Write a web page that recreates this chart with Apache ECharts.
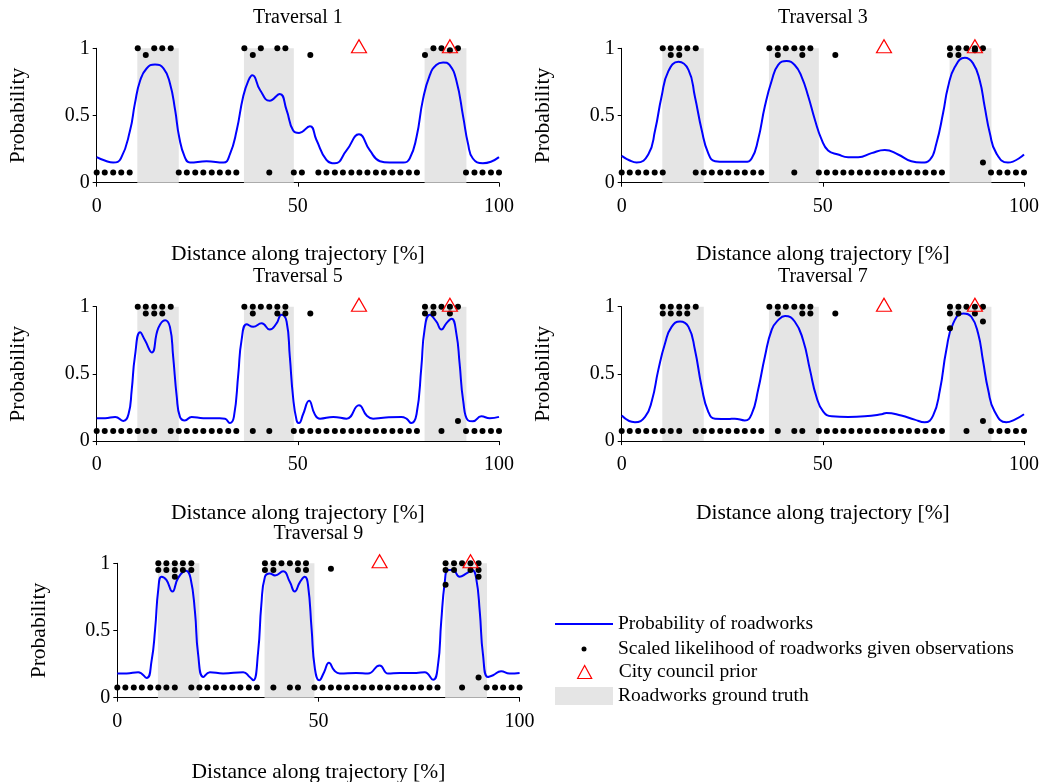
<!DOCTYPE html>
<html>
<head>
<meta charset="utf-8">
<script src="https://cdn.jsdelivr.net/npm/echarts@6/dist/echarts.min.js"></script>
<style>
  html, body { margin: 0; padding: 0; background: #fff; }
  #chart { width: 1042px; height: 782px; }
</style>
</head>
<body>
<div id="chart"></div>
<script>
// Panel titles
const titles = ["Traversal 1", "Traversal 3", "Traversal 5", "Traversal 7", "Traversal 9"];

// Roadworks ground truth spans [% along trajectory]
const truthSpans = [[10.1, 20.4], [36.6, 49.0], [81.5, 91.9]];

// City council prior positions
const priorAt = [65.2, 87.8];

// Observation stations along the trajectory [%]
const stations = [0, 2.0, 4.1, 6.1, 8.2, 10.2, 12.2, 14.3, 16.3, 18.4,
  20.4, 22.4, 24.5, 26.5, 28.6, 30.6, 32.7, 34.7, 36.7, 38.8,
  40.8, 42.9, 44.9, 46.9, 49.0, 51.0, 53.1, 55.1, 57.1, 59.2,
  61.2, 63.3, 65.3, 67.3, 69.4, 71.4, 73.5, 75.5, 77.6, 79.6,
  81.6, 83.7, 85.7, 87.8, 89.8, 91.8, 93.9, 95.9, 98.0, 100];

// Scaled likelihood values seen at each station
const dots1 = [
  [0.075], [0.075], [0.075], [0.075], [0.075],
  [1], [0.95], [1], [1], [1],
  [0.075], [0.075], [0.075], [0.075], [0.075], [0.075], [0.075], [0.075],
  [1], [0.95], [1], [0.075], [1], [1], [0.075], [0.075],
  [0.95],
  [0.075], [0.075], [0.075], [0.075], [0.075], [0.075], [0.075], [0.075], [0.075], [0.075], [0.075], [0.075], [0.075],
  [0.95], [1], [1], [0.985], [1],
  [0.075], [0.075], [0.075], [0.075], [0.075],
];
const dots3 = [
  [0.075], [0.075], [0.075], [0.075], [0.075],
  [0.075, 1], [1, 0.95], [1, 0.95], [1], [0.075, 1],
  [0.075], [0.075], [0.075], [0.075], [0.075], [0.075], [0.075], [0.075],
  [1], [1, 0.95], [1], [0.075, 1], [1, 0.95], [1], [0.075], [0.075],
  [0.075, 0.95],
  [0.075], [0.075], [0.075], [0.075], [0.075], [0.075], [0.075], [0.075], [0.075], [0.075], [0.075], [0.075], [0.075],
  [1, 0.95], [1, 0.95], [1], [1, 0.985], [1, 0.15],
  [0.075], [0.075], [0.075], [0.075], [0.075],
];
const dots5 = [
  [0.075], [0.075], [0.075], [0.075], [0.075],
  [0.075, 1], [0.075, 1, 0.95], [0.075, 1, 0.95], [1, 0.95], [0.075, 1],
  [0.075], [0.075], [0.075], [0.075], [0.075], [0.075], [0.075], [0.075],
  [1], [0.075, 1, 0.95], [1], [0.075, 1], [1, 0.95], [1, 0.95], [0.075], [0.075],
  [0.075, 0.95],
  [0.075], [0.075], [0.075], [0.075], [0.075], [0.075], [0.075], [0.075], [0.075], [0.075], [0.075], [0.075], [0.075],
  [1, 0.95], [1, 0.95], [0.075, 1], [1, 0.95], [1, 0.15],
  [0.075], [0.075], [0.075], [0.075], [0.075],
];
const dots7 = [
  [0.075], [0.075], [0.075], [0.075], [0.075],
  [0.075, 1, 0.95], [0.075, 1, 0.95], [0.075, 1, 0.95], [1, 0.95], [0.075, 1],
  [0.075], [0.075], [0.075], [0.075], [0.075], [0.075], [0.075], [0.075],
  [1], [0.075, 1, 0.95], [1], [0.075, 1], [0.075, 1, 0.95], [1, 0.95], [0.075], [0.075],
  [0.075, 0.95],
  [0.075], [0.075], [0.075], [0.075], [0.075], [0.075], [0.075], [0.075], [0.075], [0.075], [0.075], [0.075], [0.075],
  [1, 0.95, 0.84], [1, 0.95], [0.075, 1], [1, 0.95], [1, 0.89, 0.15],
  [0.075], [0.075], [0.075], [0.075], [0.075],
];
const dots9 = [
  [0.075], [0.075], [0.075], [0.075], [0.075],
  [0.075, 1, 0.95], [0.075, 1, 0.95], [0.075, 1, 0.95, 0.9], [1, 0.95], [0.075, 1, 0.95],
  [0.075], [0.075], [0.075], [0.075], [0.075], [0.075], [0.075], [0.075],
  [1, 0.95], [0.075, 1, 0.95], [1], [0.075, 1], [0.075, 1, 0.95], [1, 0.95], [0.075], [0.075],
  [0.075, 0.96],
  [0.075], [0.075], [0.075], [0.075], [0.075], [0.075], [0.075], [0.075], [0.075], [0.075], [0.075], [0.075], [0.075],
  [1, 0.95, 0.84], [1, 0.95], [0.075, 1], [1, 0.95], [1, 0.95, 0.9, 0.15],
  [0.075], [0.075], [0.075], [0.075], [0.075],
];

// Probability of roadworks, [% along trajectory, probability]
const curve1 = [[0, 0.19], [2, 0.165], [4.1, 0.15], [6, 0.18], [8.3, 0.39], [9.5, 0.59], [10.8, 0.76], [12.4, 0.85],
  [14.5, 0.88], [16.6, 0.85], [18.2, 0.74], [19.5, 0.54], [20.5, 0.34], [21.9, 0.19], [23.2, 0.15], [27.3, 0.16],
  [31.5, 0.15], [33.1, 0.21], [34.8, 0.39], [36.4, 0.64], [37.7, 0.76], [38.7, 0.8], [40.6, 0.69], [43, 0.61],
  [45.5, 0.66], [47.2, 0.54], [48.8, 0.39], [50.3, 0.37], [53, 0.42], [54.6, 0.32], [57.1, 0.17], [59.2, 0.144],
  [62.1, 0.24], [65.2, 0.36], [67.9, 0.24], [70.4, 0.16], [72.8, 0.15], [76.2, 0.15], [77.8, 0.18], [79.5, 0.34],
  [81.1, 0.62], [82.8, 0.8], [84.4, 0.876], [86.1, 0.895], [87.7, 0.876], [89.4, 0.76], [91.1, 0.49], [92.3, 0.29],
  [93.5, 0.18], [96, 0.144], [100, 0.19]];
const curve3 = [[0, 0.2], [2, 0.165], [3.7, 0.15], [6.6, 0.21], [8.3, 0.39], [9.9, 0.64], [11.6, 0.83], [14.1, 0.9],
  [16.6, 0.84], [18.2, 0.64], [19.9, 0.39], [21.5, 0.22], [23.2, 0.16], [25.7, 0.155], [30.6, 0.155], [32.3, 0.18],
  [33.9, 0.32], [35.6, 0.57], [37.3, 0.76], [38.9, 0.876], [41, 0.906], [43, 0.876], [44.7, 0.79], [46.4, 0.64],
  [48, 0.47], [49.7, 0.32], [51.3, 0.24], [53.8, 0.21], [56.3, 0.19], [58.8, 0.19], [62.1, 0.22], [65.4, 0.243],
  [68.7, 0.21], [72, 0.16], [74.5, 0.15], [76.6, 0.17], [78.2, 0.29], [79.9, 0.52], [81.1, 0.71], [82.8, 0.86],
  [85.3, 0.93], [87.3, 0.89], [89, 0.76], [90.2, 0.57], [91.5, 0.37], [93.1, 0.22], [96, 0.15], [100, 0.21]];
const curve5 = [[0, 0.17], [2.1, 0.17], [4.6, 0.18], [6.6, 0.15], [7.9, 0.2], [8.7, 0.38], [9.5, 0.63], [10.8, 0.81],
  [12, 0.75], [13.7, 0.66], [15.3, 0.84], [17, 0.9], [18.2, 0.85], [19, 0.63], [19.9, 0.33], [20.7, 0.18],
  [21.9, 0.154], [23.6, 0.18], [26.5, 0.17], [30.6, 0.17], [31.9, 0.167], [33.1, 0.134], [34.1, 0.18], [35.2, 0.5],
  [36, 0.75], [37.3, 0.87], [38.9, 0.85], [41, 0.876], [43, 0.83], [44.7, 0.876], [45.9, 0.94], [47.2, 0.89],
  [48, 0.63], [48.8, 0.33], [49.7, 0.154], [50.3, 0.134], [51.3, 0.2], [52.8, 0.3], [54.2, 0.2], [55.5, 0.167],
  [58.8, 0.18], [62.1, 0.167], [65.2, 0.266], [67.1, 0.19], [68.7, 0.167], [71.2, 0.174], [75.7, 0.18], [77, 0.167],
  [78.2, 0.134], [79.5, 0.2], [80.7, 0.55], [81.5, 0.83], [82.8, 0.94], [84.4, 0.89], [85.7, 0.83], [86.9, 0.876],
  [88.2, 0.91], [89.4, 0.8], [90.2, 0.58], [91.1, 0.3], [92.3, 0.154], [93.5, 0.147], [95.6, 0.184], [97.7, 0.17],
  [100, 0.18]];
const curve7 = [[0, 0.19], [3.3, 0.14], [5.8, 0.18], [7.5, 0.3], [9.1, 0.53], [10.8, 0.73], [12.4, 0.85], [14.5, 0.89],
  [16.6, 0.85], [18.2, 0.68], [19.9, 0.4], [21.5, 0.22], [23.2, 0.167], [26.5, 0.164], [28.1, 0.167], [30.6, 0.154],
  [32.3, 0.2], [33.9, 0.38], [35.6, 0.63], [37.3, 0.83], [38.9, 0.9], [40.6, 0.93], [43, 0.89], [45.1, 0.75],
  [46.8, 0.53], [48.4, 0.33], [50.1, 0.22], [52.2, 0.184], [56.3, 0.18], [60.4, 0.184], [64.6, 0.2], [65.8, 0.21],
  [69.5, 0.19], [72.8, 0.16], [75.3, 0.14], [77.4, 0.19], [79.1, 0.38], [80.7, 0.68], [82.4, 0.876], [84.9, 0.95],
  [86.9, 0.925], [88.6, 0.8], [89.8, 0.6], [91.1, 0.38], [92.7, 0.22], [95.6, 0.14], [97.7, 0.16], [100, 0.2]];
const curve9 = [[0, 0.18], [2.3, 0.18], [5.2, 0.19], [7.3, 0.147], [8.5, 0.27], [9.4, 0.51], [10.2, 0.81], [11, 0.9],
  [12.2, 0.876], [13.7, 0.79], [15.1, 0.89], [17.1, 0.945], [18.2, 0.89], [19.3, 0.64], [20.1, 0.32], [21.4, 0.154],
  [23, 0.19], [26.3, 0.18], [31.3, 0.19], [32.9, 0.154], [33.8, 0.13], [35, 0.34], [35.8, 0.69], [36.7, 0.9],
  [37.9, 0.925], [39.2, 0.91], [41.2, 0.94], [42.9, 0.86], [44.1, 0.79], [45.4, 0.86], [46.6, 0.9], [47.4, 0.84],
  [48.3, 0.51], [49.1, 0.22], [50.2, 0.13], [51.4, 0.19], [52.6, 0.26], [54, 0.2], [55.3, 0.18], [59.4, 0.184],
  [62.3, 0.18], [65.2, 0.24], [67.3, 0.18], [70.2, 0.184], [74.3, 0.184], [76.4, 0.19], [78.5, 0.134], [79.7, 0.24],
  [80.5, 0.56], [81.4, 0.86], [82.2, 0.95], [83.4, 0.95], [85.1, 0.9], [86.8, 0.925], [88.2, 0.95], [89.2, 0.89],
  [90.1, 0.64], [90.9, 0.32], [92.1, 0.154], [93.4, 0.167], [95.4, 0.196], [97.5, 0.18], [100, 0.184]];

const curves = [curve1, curve3, curve5, curve7, curve9];
const dotSets = [dots1, dots3, dots5, dots7, dots9];

// Layout of the five panels
const FONT = '"Liberation Serif", "DejaVu Serif", serif';
const GRAY = "#e5e5e5";
const plotW = 402.3;
const plotH = 134.4;
const panels = [
  { left: 96.7, top: 48.3, titleTop: 8, nameGap: 61 },
  { left: 621.7, top: 48.3, titleTop: 8, nameGap: 61 },
  { left: 96.7, top: 306.7, titleTop: 267, nameGap: 61 },
  { left: 621.7, top: 306.7, titleTop: 267, nameGap: 61 },
  { left: 117.3, top: 563.3, titleTop: 524, nameGap: 64 },
];

const textStyle = { fontFamily: FONT, fontSize: 20, color: "#000" };
const nameStyle = { fontFamily: FONT, fontSize: 21.5, color: "#000" };
const legendText = { fontFamily: FONT, fontSize: 19.5, color: "#000" };

const series = [];
panels.forEach((p, k) => {
  series.push({
    name: "Roadworks ground truth",
    type: "line",
    xAxisIndex: k,
    yAxisIndex: k,
    data: [],
    symbol: "none",
    silent: true,
    lineStyle: { color: GRAY },
    itemStyle: { color: GRAY },
    markArea: {
      silent: true,
      itemStyle: { color: GRAY },
      data: truthSpans.map((s) => [{ xAxis: s[0], yAxis: 0 }, { xAxis: s[1], yAxis: 1 }]),
    },
  });
  series.push({
    name: "Probability of roadworks",
    type: "line",
    xAxisIndex: k,
    yAxisIndex: k,
    data: curves[k],
    smooth: 0.5,
    symbol: "none",
    silent: true,
    lineStyle: { color: "#0000ff", width: 2 },
    itemStyle: { color: "#0000ff" },
    z: 3,
  });
  const pts = [];
  dotSets[k].forEach((vals, i) => {
    vals.forEach((v) => pts.push([stations[i], v]));
  });
  series.push({
    name: "Scaled likelihood of roadworks given observations",
    type: "scatter",
    xAxisIndex: k,
    yAxisIndex: k,
    data: pts,
    symbol: "circle",
    symbolSize: 6,
    silent: true,
    itemStyle: { color: "#000", opacity: 1 },
    z: 4,
  });
  series.push({
    name: "City council prior",
    type: "scatter",
    xAxisIndex: k,
    yAxisIndex: k,
    data: priorAt.map((x) => [x, 1]),
    symbol: "triangle",
    symbolSize: [15, 13],
    symbolOffset: [0, -2],
    silent: true,
    itemStyle: { color: "none", borderColor: "#ff0000", borderWidth: 1.2, opacity: 1 },
    z: 5,
  });
});

// one legend per entry so each icon can have its own size
const legendItem = (name, left, top, h, extra) => ({
  selectedMode: false,
  padding: 0,
  left: left,
  top: top,
  itemWidth: 58,
  itemHeight: h,
  symbolKeepAspect: true,
  textStyle: legendText,
  data: [Object.assign({ name: name }, extra)],
});

const option = {
  animation: false,
  backgroundColor: "#fff",
  title: panels.map((p, k) => ({
    text: titles[k],
    left: p.left + plotW / 2,
    top: p.titleTop,
    textAlign: "center",
    padding: 0,
    textStyle: { fontFamily: FONT, fontSize: 20, fontWeight: "normal", color: "#000" },
  })),
  legend: [
    legendItem("Probability of roadworks", 555, 614, 2, {
      icon: "rect",
      itemStyle: { color: "#0000ff", borderWidth: 0 },
    }),
    legendItem("Scaled likelihood of roadworks given observations", 581.5, 639, 5, {
      icon: "circle",
      itemStyle: { color: "#000", borderWidth: 0 },
    }),
    legendItem("City council prior", 577, 662, 13, {
      icon: "path://M0,12L6.5,0L13,12Z",
      itemStyle: { color: "rgba(0,0,0,0)", borderColor: "#ff0000", borderWidth: 1.2 },
    }),
    legendItem("Roadworks ground truth", 555, 686, 18, {
      icon: "rect",
      itemStyle: { color: GRAY, borderWidth: 0 },
    }),
  ],
  grid: panels.map((p) => ({
    left: p.left,
    top: p.top,
    width: plotW,
    height: plotH,
    outerBoundsMode: "none",
    containLabel: false,
  })),
  xAxis: panels.map((p, k) => ({
    type: "value",
    gridIndex: k,
    min: 0,
    max: 100,
    interval: 50,
    name: "Distance along trajectory [%]",
    nameLocation: "middle",
    nameGap: p.nameGap,
    nameTextStyle: nameStyle,
    axisLine: { show: true, onZero: false, lineStyle: { color: "#000", width: 1 } },
    axisTick: { show: true, inside: false, length: 4, lineStyle: { color: "#000" } },
    axisLabel: Object.assign({ margin: 14 }, textStyle),
    splitLine: { show: false },
  })),
  yAxis: panels.map((p, k) => ({
    type: "value",
    gridIndex: k,
    min: 0,
    max: 1,
    interval: 0.5,
    name: "Probability",
    nameLocation: "middle",
    nameRotate: 90,
    nameGap: 67,
    nameTextStyle: nameStyle,
    axisLine: { show: true, onZero: false, lineStyle: { color: "#000", width: 1 } },
    axisTick: { show: true, inside: false, length: 4, lineStyle: { color: "#000" } },
    axisLabel: Object.assign({ margin: 7 }, textStyle),
    splitLine: { show: false },
  })),
  series: series,
};

const chart = echarts.init(document.getElementById("chart"));
chart.setOption(option);
</script>
</body>
</html>
